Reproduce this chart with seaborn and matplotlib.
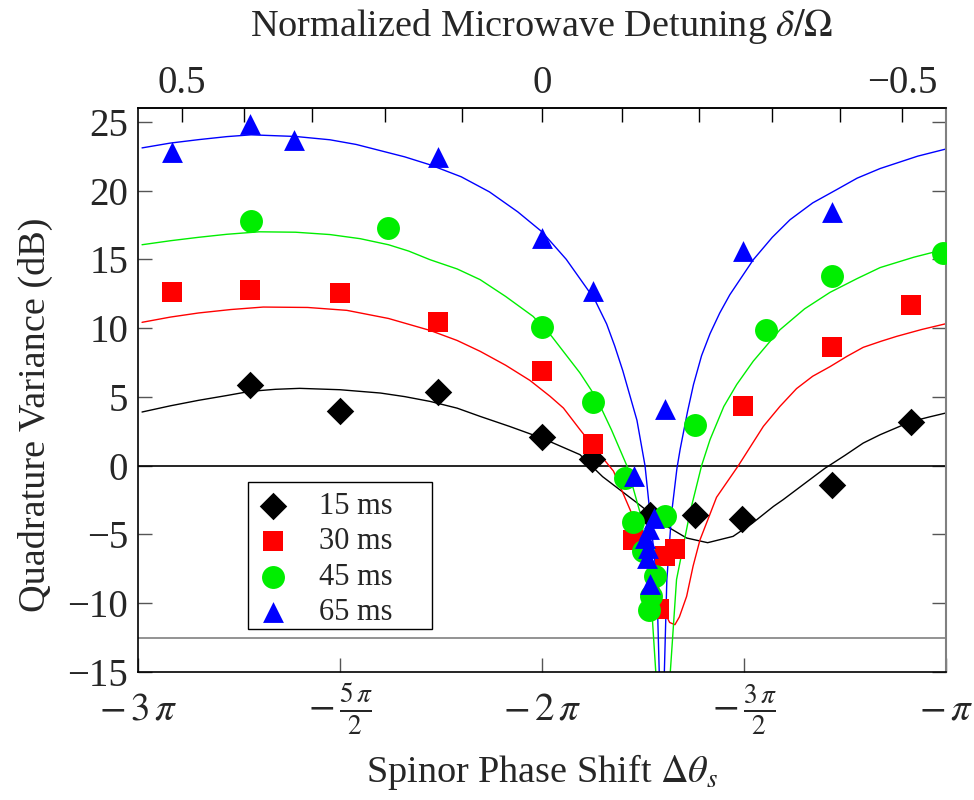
import numpy as np
import pandas as pd
import matplotlib
matplotlib.use("Agg")
import matplotlib.pyplot as plt
import matplotlib.patches as mpatches
import seaborn as sns

# ---------------- data (x in units of pi) ----------------
series_labels = ["15 ms", "30 ms", "45 ms", "65 ms"]

x15 = [-2.722, -2.5, -2.257, -2.001, -1.875, -1.733, -1.621, -1.504, -1.283, -1.087]
y15 = [5.84, 3.95, 5.33, 2.07, 0.5, -3.56, -3.62, -3.85, -1.4, 3.17]

x30 = [-2.917, -2.722, -2.5, -2.257, -2.001, -1.873, -1.774, -1.696, -1.671, -1.710, -1.503, -1.281, -1.087]
y30 = [12.6, 12.74, 12.55, 10.42, 6.87, 1.57, -5.43, -6.59, -6.06, -10.45, 4.33, 8.62, 11.66]

x45 = [-2.721, -2.380, -2.001, -1.873, -1.795, -1.774, -1.696, -1.749, -1.720, -1.729, -1.734, -1.622, -1.446, -1.281, -1.007]
y45 = [17.75, 17.27, 10.08, 4.64, -0.9, -4.12, -3.63, -6.23, -8.04, -9.5, -10.47, 2.98, 9.88, 13.78, 15.48]

x65 = [-2.917, -2.723, -2.614, -2.257, -2.001, -1.873, -1.772, -1.724, -1.734, -1.745, -1.737, -1.739, -1.733, -1.696, -1.503, -1.281]
y65 = [22.8, 24.85, 23.69, 22.41, 16.55, 12.73, -0.75, -3.8, -4.6, -5.26, -5.98, -6.71, -8.58, 4.1, 15.64, 18.46]

# theory curves
c15_x = [-2.99, -2.92, -2.85, -2.78, -2.723, -2.66, -2.60, -2.50, -2.40, -2.34, -2.277, -2.21, -2.153, -2.08,
         -2.0, -1.906, -1.85, -1.765, -1.691, -1.642, -1.59, -1.527, -1.48, -1.427, -1.403, -1.35, -1.30,
         -1.25, -1.205, -1.163, -1.087, -1.04, -1.00]
c15_y = [3.9, 4.35, 4.75, 5.1, 5.4, 5.55, 5.62, 5.52, 5.28, 5.02, 4.67, 4.18, 3.58, 2.85,
         2.0, 0.8, -0.8, -2.7, -4.41, -5.26, -5.6, -5.14, -4.2, -2.96, -2.47, -1.3, -0.2,
         0.75, 1.64, 2.25, 3.2, 3.55, 3.83]

c30_x = [-2.99, -2.92, -2.85, -2.77, -2.69, -2.58, -2.483, -2.38, -2.277, -2.21, -2.153, -2.09, -2.03,
         -1.98, -1.947, -1.906, -1.873, -1.848, -1.823, -1.782, -1.724, -1.696, -1.684, -1.671, -1.660,
         -1.642, -1.626, -1.609, -1.568, -1.514, -1.452, -1.411, -1.370, -1.33, -1.287, -1.245, -1.205,
         -1.16, -1.122, -1.06, -1.00]
c30_y = [10.42, 10.8, 11.1, 11.35, 11.53, 11.5, 11.29, 10.7, 9.83, 9.1, 8.31, 7.3, 6.2,
         5.04, 4.19, 2.62, 1.4, 0.5, -0.4, -3.2, -7.3, -10.7, -11.4, -11.56, -11.0,
         -9.5, -7.3, -5.4, -2.3, 0.0, 2.86, 4.31, 5.6, 6.5, 7.2, 7.95, 8.6,
         9.05, 9.4, 9.9, 10.32]

c45_x = [-2.99, -2.92, -2.85, -2.78, -2.70, -2.61, -2.525, -2.45, -2.38, -2.33, -2.277, -2.21, -2.153,
         -2.09, -2.022, -1.976, -1.906, -1.865, -1.828, -1.79, -1.757, -1.745, -1.733, -1.714, -1.687,
         -1.667, -1.634, -1.605, -1.584, -1.55, -1.518, -1.477, -1.411, -1.35, -1.287, -1.22, -1.163,
         -1.08, -1.00]
c45_y = [16.06, 16.35, 16.6, 16.82, 17.0, 16.97, 16.8, 16.5, 16.06, 15.6, 14.97, 14.3, 13.52,
         12.3, 10.85, 9.4, 6.74, 4.9, 2.6, 0.0, -3.44, -5.6, -8.3, -17.0, -17.0,
         -8.28, -3.44, 0.0, 1.9, 4.3, 5.9, 7.6, 9.88, 11.4, 12.6, 13.6, 14.4,
         15.15, 15.75]

c65_x = [-2.99, -2.92, -2.85, -2.78, -2.72, -2.61, -2.525, -2.46, -2.40, -2.34, -2.277, -2.20, -2.13,
         -2.06, -2.00, -1.94, -1.87, -1.84, -1.82, -1.80, -1.765, -1.745, -1.733, -1.716, -1.708, -1.699,
         -1.691, -1.679, -1.666, -1.658, -1.640, -1.625, -1.605, -1.584, -1.56, -1.535, -1.477, -1.43,
         -1.386, -1.33, -1.271, -1.22, -1.163, -1.07, -1.00]
c65_y = [23.1, 23.45, 23.7, 23.92, 24.05, 23.93, 23.69, 23.35, 22.9, 22.45, 21.87, 21.0, 19.9,
         18.45, 17.0, 15.0, 12.1, 10.3, 8.7, 6.9, 3.3, 0.0, -3.4, -8.3, -17.0, -17.0,
         -8.3, -3.4, -0.2, 1.2, 3.9, 5.9, 8.0, 9.6, 11.1, 12.43, 14.97, 16.6,
         17.88, 19.1, 20.06, 20.9, 21.6, 22.5, 23.02]

bottom_ticks = [-3, -2.5, -2, -1.5, -1]
bottom_labels = [r"$-\,3\,\pi$", r"$-\,\frac{5\,\pi}{2}$", r"$-\,2\,\pi$", r"$-\,\frac{3\,\pi}{2}$", r"$-\,\pi$"]
top_major = [0.5, 0.0, -0.5]
top_major_labels = ["0.5", "0", "\u22120.5"]
top_minor = [0.4, 0.3, 0.2, 0.1, -0.1, -0.2, -0.3, -0.4]
y_ticks = [-15, -10, -5, 0, 5, 10, 15, 20, 25]

# ---------------- style ----------------
sns.set_theme(style="ticks")
plt.rcParams["font.family"] = ["Liberation Serif", "DejaVu Serif"]
plt.rcParams["mathtext.fontset"] = "stix"
plt.rcParams["axes.unicode_minus"] = True

colors = ["#000000", "#ff0000", "#00ee00", "#0000ff"]
markers = ["D", "s", "o", "^"]
msizes = [14.0, 15.0, 16.5, 15.0]

fig = plt.figure(figsize=(9.74, 8.0), dpi=100)
ax = fig.add_axes([138 / 974, 1 - 672 / 800, 808 / 974, 564 / 800])

# reference lines
ax.axhline(0, color="black", lw=1.2, zorder=1)
ax.axhline(-12.5, color="#808080", lw=1.2, zorder=1)

curves = [(c15_x, c15_y), (c30_x, c30_y), (c45_x, c45_y), (c65_x, c65_y)]
for (cx, cy), col in zip(curves, colors):
    sns.lineplot(x=cx, y=cy, ax=ax, color=col, lw=1.0, sort=False, zorder=2, legend=False)

points = [(x15, y15), (x30, y30), (x45, y45), (x65, y65)]
for (px, py), col, mk, ms, lab in zip(points, colors, markers, msizes, series_labels):
    sns.scatterplot(x=px, y=py, ax=ax, color=col, marker=mk, s=ms ** 2, linewidth=0,
                    zorder=3, label=lab)

ax.set_xlim(-3, -1)
ax.set_ylim(-15, 26)

ax.set_xticks(bottom_ticks)
ax.set_xticklabels(bottom_labels)
ax.set_yticks(y_ticks)
ax.tick_params(axis="both", which="major", direction="in", length=10, width=1.0,
               labelsize=28, color="#555555")
ax.tick_params(axis="x", top=False, pad=27)
for lab in ax.get_xticklabels():
    lab.set_verticalalignment("center")
ax.tick_params(axis="y", right=True, labelright=False, pad=7)
for sp in ["left", "bottom", "top"]:
    ax.spines[sp].set_color("black")
    ax.spines[sp].set_linewidth(1.2)
ax.spines["right"].set_color("#808080")
ax.spines["right"].set_linewidth(1.5)

ax.set_xlabel(r"Spinor Phase Shift $\Delta\theta_s$", fontsize=27.5)
ax.xaxis.set_label_coords(0.5, -0.142)
ax.set_ylabel("Quadrature Variance (dB)", fontsize=27.5)
ax.yaxis.set_label_coords(-0.105, 0.456)

# top axis: normalized microwave detuning
K = 1.651
A = 1.2


def t_to_delta(t):
    t = np.asarray(t, dtype=float)
    arg = np.clip((-2.0 - t) / K, -1.5, 1.5)
    return np.tan(arg) / A


def delta_to_t(d):
    d = np.asarray(d, dtype=float)
    return -2.0 - K * np.arctan(A * d)


sec = ax.secondary_xaxis("top", functions=(t_to_delta, delta_to_t))
sec.set_xticks(top_major)
sec.set_xticklabels(top_major_labels)
sec.set_xticks(top_minor, minor=True)
sec.tick_params(axis="x", which="both", direction="in", length=10, width=1.0,
                labelsize=28, pad=4.5, color="black")
sec.spines["top"].set_linewidth(1.2)
fig.text(542 / 974, 1 - 36 / 800, r"Normalized Microwave Detuning $\delta/\Omega$",
         fontsize=27.5, ha="center", va="baseline")

# legend with a fixed frame
frame = mpatches.Rectangle((248 / 974, 1 - 629 / 800), 184 / 974, 147 / 800,
                           transform=fig.transFigure, fill=False, edgecolor="black",
                           lw=1.0, zorder=10)
fig.patches.append(frame)
leg = ax.legend(loc="upper left", bbox_to_anchor=(248 / 974, 1 - 482 / 800),
                bbox_transform=fig.transFigure, borderaxespad=0, fontsize=22,
                frameon=False, handletextpad=1.0, labelspacing=0.21, borderpad=0.32,
                handlelength=1.0, scatterpoints=1)

fig.savefig("out.png", dpi=100)
